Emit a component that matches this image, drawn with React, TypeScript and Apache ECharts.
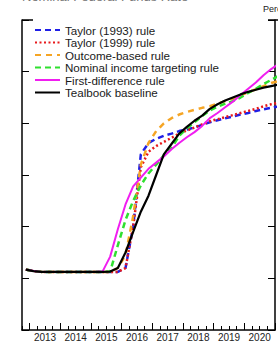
import React, { useEffect, useRef } from "react";
import * as echarts from "echarts";

const quarters = [
  "2012Q4",
  "2013Q1", "2013Q2", "2013Q3", "2013Q4",
  "2014Q1", "2014Q2", "2014Q3", "2014Q4",
  "2015Q1", "2015Q2", "2015Q3", "2015Q4",
  "2016Q1", "2016Q2", "2016Q3", "2016Q4",
  "2017Q1", "2017Q2", "2017Q3", "2017Q4",
  "2018Q1", "2018Q2", "2018Q3", "2018Q4",
  "2019Q1", "2019Q2", "2019Q3", "2019Q4",
  "2020Q1", "2020Q2", "2020Q3", "2020Q4",
  "2021Q1",
];

const taylor1993 = [
  0.17, 0.14, 0.125, 0.125, 0.125, 0.125, 0.125, 0.125, 0.125, 0.125, 0.125, 0.125, 0.125,
  0.2, 1.0, 2.4, 2.62,
  2.7, 2.76, 2.8, 2.85,
  2.88, 2.92, 2.97, 3.02,
  3.06, 3.1, 3.13, 3.17,
  3.2, 3.24, 3.27, 3.3,
  3.33,
];

const taylor1999 = [
  0.17, 0.14, 0.125, 0.125, 0.125, 0.125, 0.125, 0.125, 0.125, 0.125, 0.125, 0.125, 0.125,
  0.2, 1.0, 2.15, 2.45,
  2.56, 2.64, 2.72, 2.8,
  2.86, 2.92, 2.98, 3.04,
  3.08, 3.12, 3.16, 3.2,
  3.24, 3.28, 3.33, 3.37,
  3.4,
];

const outcomeBased = [
  0.17, 0.14, 0.125, 0.125, 0.125, 0.125, 0.125, 0.125, 0.125, 0.125, 0.125, 0.125, 0.2,
  0.45, 1.2, 2.2, 2.62,
  2.85, 3.0, 3.1, 3.17,
  3.22, 3.26, 3.3, 3.33,
  3.38, 3.43, 3.48, 3.54,
  3.6, 3.66, 3.72, 3.78,
  3.82,
];

const nominalIncome = [
  0.17, 0.14, 0.125, 0.125, 0.125, 0.125, 0.125, 0.125, 0.125, 0.125, 0.125, 0.13, 0.64,
  1.13, 1.5, 1.8, 2.03,
  2.2, 2.38, 2.52, 2.76,
  2.9, 3.02, 3.14, 3.25,
  3.32, 3.38, 3.43, 3.5,
  3.59, 3.67, 3.76, 3.84,
  3.92,
];

const firstDifference = [
  0.17, 0.14, 0.125, 0.125, 0.125, 0.125, 0.125, 0.125, 0.125, 0.125, 0.13, 0.42, 0.95,
  1.43, 1.78, 1.95, 2.12,
  2.24, 2.36, 2.5, 2.62,
  2.73, 2.83, 2.95, 3.1,
  3.2, 3.31, 3.42, 3.55,
  3.67, 3.79, 3.93, 4.05,
  4.15,
];

const tealbook = [
  0.17, 0.14, 0.125, 0.125, 0.125, 0.125, 0.125, 0.125, 0.125, 0.125, 0.125, 0.13, 0.2,
  0.5, 0.9, 1.29, 1.6,
  2.0, 2.4, 2.6, 2.8,
  2.93, 3.05, 3.15, 3.28,
  3.37, 3.44, 3.5, 3.56,
  3.61, 3.65, 3.69, 3.72,
  3.75,
];

const yearLabels = [2013, 2014, 2015, 2016, 2017, 2018, 2019, 2020];
const yearBoundaries = [2013, 2014, 2015, 2016, 2017, 2018, 2019, 2020, 2021];

const seriesDefs = [
  { name: "Taylor (1993) rule", data: taylor1993, color: "#1f1fe6", type: [6, 4], width: 2.5 },
  { name: "Taylor (1999) rule", data: taylor1999, color: "#e8191b", type: [2, 2.5], width: 2.5 },
  { name: "Outcome-based rule", data: outcomeBased, color: "#f5a524", type: [6, 5], width: 2.5 },
  { name: "Nominal income targeting rule", data: nominalIncome, color: "#2fe02f", type: [6, 4], width: 2.5 },
  { name: "First-difference rule", data: firstDifference, color: "#f01ef0", type: "solid", width: 2 },
  { name: "Tealbook baseline", data: tealbook, color: "#000000", type: "solid", width: 2.2 },
];

function quarterToX(q: string): number {
  const y = parseInt(q.slice(0, 4), 10);
  const n = parseInt(q.slice(5), 10);
  return y + (n - 0.5) / 4;
}

const FONT = "'Liberation Sans', Arial, sans-serif";

export default function App() {
  const ref = useRef<HTMLDivElement>(null);
  useEffect(() => {
    if (!ref.current) return;
    const chart = echarts.init(ref.current, null, { renderer: "svg" });
    const xs = quarters.map(quarterToX);
    chart.setOption({
      animation: false,
      backgroundColor: "#ffffff",
      grid: { left: 22, right: 1, top: 20, bottom: 10 },
      legend: {
        orient: "vertical",
        left: 34,
        top: 24,
        padding: 0,
        itemWidth: 25,
        itemHeight: 12,
        itemGap: 0.5,
        itemStyle: { opacity: 0 },
        textStyle: { fontFamily: FONT, fontSize: 11.6, color: "#1a1a1a", lineHeight: 12 },
        data: seriesDefs.map((s) => s.name),
      },
      xAxis: [
        {
          type: "value",
          min: 2012.75,
          max: 2021,
          interval: 0.25,
          axisLine: { show: true, onZero: false, lineStyle: { color: "#000", width: 1.5 } },
          axisTick: { show: true, inside: true, length: 4, lineStyle: { color: "#000", width: 1 } },
          splitLine: { show: false },
          axisLabel: {
            show: true,
            margin: 2,
            fontFamily: FONT,
            fontSize: 10,
            color: "#222",
            formatter: (v: number) => {
              const f = Math.floor(v + 1e-9);
              return Math.abs(v - f - 0.5) < 1e-6 && yearLabels.includes(f) ? String(f) : "";
            },
          },
        },
        {
          type: "value",
          position: "bottom",
          min: 2012.75,
          max: 2021,
          interval: 0.25,
          axisLine: { show: false, onZero: false },
          axisTick: {
            show: true,
            inside: true,
            length: 7,
            customValues: yearBoundaries,
            lineStyle: { color: "#000", width: 1 },
          },
          axisLabel: { show: false },
          splitLine: { show: false },
        },
      ],
      yAxis: [
        {
          type: "value",
          min: -1,
          max: 5,
          interval: 1,
          position: "left",
          axisLine: { show: true, onZero: false, lineStyle: { color: "#000", width: 1.5 } },
          axisTick: { show: true, inside: true, length: 7, lineStyle: { color: "#000", width: 1 } },
          axisLabel: { show: false },
          splitLine: { show: false },
        },
        {
          type: "value",
          min: -1,
          max: 5,
          interval: 1,
          position: "right",
          axisLine: { show: true, onZero: false, lineStyle: { color: "#000", width: 1.5 } },
          axisTick: { show: true, inside: true, length: 7, lineStyle: { color: "#000", width: 1 } },
          axisLabel: { show: false },
          splitLine: { show: false },
        },
      ],
      graphic: [
        {
          type: "line",
          shape: { x1: 22, y1: 20, x2: 33, y2: 20 },
          style: { stroke: "#000", lineWidth: 1.5 },
        },
        {
          type: "line",
          shape: { x1: 268, y1: 20, x2: 278, y2: 20 },
          style: { stroke: "#000", lineWidth: 1.5 },
        },
        {
          type: "text",
          left: 22,
          top: -10,
          style: { text: "Nominal Federal Funds Rate", fontFamily: FONT, fontSize: 13, fill: "#777" },
        },
        {
          type: "text",
          left: 263,
          top: 4,
          style: { text: "Percent", fontFamily: FONT, fontSize: 9, fill: "#222" },
        },
      ],
      series: seriesDefs.map((s) => ({
        name: s.name,
        type: "line",
        xAxisIndex: 0,
        yAxisIndex: 0,
        showSymbol: false,
        symbol: "none",
        clip: true,
        lineStyle: { color: s.color, width: s.width, type: s.type },
        itemStyle: { color: s.color },
        data: xs.map((x, i) => [x, s.data[i]]),
      })),
    });
    return () => chart.dispose();
  }, []);
  return <div ref={ref} style={{ width: 278, height: 342, position: "absolute", left: 0, top: 0 }} />;
}
